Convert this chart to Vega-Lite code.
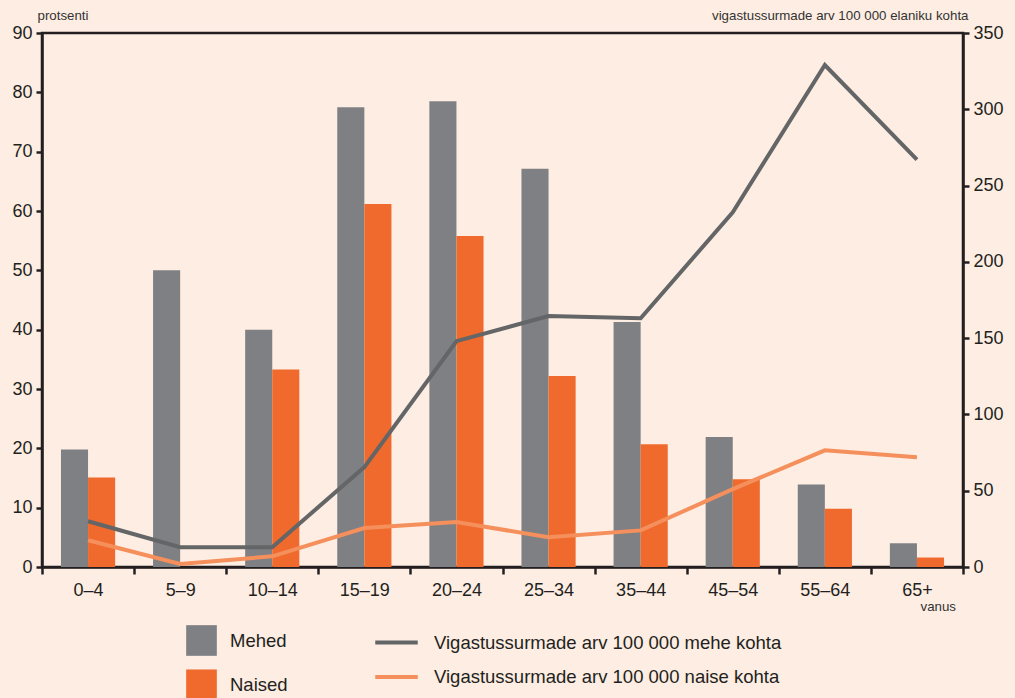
{
  "$schema": "https://vega.github.io/schema/vega-lite/v6.json",
  "width": 921,
  "height": 534,
  "autosize": {"type": "none"},
  "padding": {"left": 42, "top": 33, "right": 52, "bottom": 131},
  "background": "#fdede2",
  "config": {
    "font": "Liberation Sans",
    "view": {"stroke": "#231f20", "strokeWidth": 2.5},
    "axis": {
      "domainColor": "#231f20", "domainWidth": 2.5,
      "tickColor": "#231f20", "tickWidth": 2.5, "tickSize": 7,
      "labelColor": "#231f20", "labelFontSize": 18, "labelFont": "Liberation Sans",
      "grid": false,
      "titleFont": "Liberation Sans", "titleFontSize": 13.3, "titleFontWeight": "normal", "titleColor": "#333333"
    }
  },
  "datasets": {
    "bars": [
      {"age": "0–4", "sex": "Mehed", "value": 19.8},
      {"age": "0–4", "sex": "Naised", "value": 15.1},
      {"age": "5–9", "sex": "Mehed", "value": 50.0},
      {"age": "5–9", "sex": "Naised", "value": 0},
      {"age": "10–14", "sex": "Mehed", "value": 40.0},
      {"age": "10–14", "sex": "Naised", "value": 33.3},
      {"age": "15–19", "sex": "Mehed", "value": 77.5},
      {"age": "15–19", "sex": "Naised", "value": 61.2},
      {"age": "20–24", "sex": "Mehed", "value": 78.5},
      {"age": "20–24", "sex": "Naised", "value": 55.8},
      {"age": "25–34", "sex": "Mehed", "value": 67.1},
      {"age": "25–34", "sex": "Naised", "value": 32.2},
      {"age": "35–44", "sex": "Mehed", "value": 41.3},
      {"age": "35–44", "sex": "Naised", "value": 20.7},
      {"age": "45–54", "sex": "Mehed", "value": 21.9},
      {"age": "45–54", "sex": "Naised", "value": 14.8},
      {"age": "55–64", "sex": "Mehed", "value": 13.9},
      {"age": "55–64", "sex": "Naised", "value": 9.8},
      {"age": "65+", "sex": "Mehed", "value": 4.0},
      {"age": "65+", "sex": "Naised", "value": 1.6}
    ],
    "lines": [
      {"age": "0–4", "series": "Vigastussurmade arv 100 000 mehe kohta", "rate": 30},
      {"age": "5–9", "series": "Vigastussurmade arv 100 000 mehe kohta", "rate": 13},
      {"age": "10–14", "series": "Vigastussurmade arv 100 000 mehe kohta", "rate": 13},
      {"age": "15–19", "series": "Vigastussurmade arv 100 000 mehe kohta", "rate": 65.5},
      {"age": "20–24", "series": "Vigastussurmade arv 100 000 mehe kohta", "rate": 148},
      {"age": "25–34", "series": "Vigastussurmade arv 100 000 mehe kohta", "rate": 164.5},
      {"age": "35–44", "series": "Vigastussurmade arv 100 000 mehe kohta", "rate": 163},
      {"age": "45–54", "series": "Vigastussurmade arv 100 000 mehe kohta", "rate": 232.5},
      {"age": "55–64", "series": "Vigastussurmade arv 100 000 mehe kohta", "rate": 329},
      {"age": "65+", "series": "Vigastussurmade arv 100 000 mehe kohta", "rate": 267},
      {"age": "0–4", "series": "Vigastussurmade arv 100 000 naise kohta", "rate": 17.5},
      {"age": "5–9", "series": "Vigastussurmade arv 100 000 naise kohta", "rate": 2},
      {"age": "10–14", "series": "Vigastussurmade arv 100 000 naise kohta", "rate": 7},
      {"age": "15–19", "series": "Vigastussurmade arv 100 000 naise kohta", "rate": 25.5},
      {"age": "20–24", "series": "Vigastussurmade arv 100 000 naise kohta", "rate": 29.5},
      {"age": "25–34", "series": "Vigastussurmade arv 100 000 naise kohta", "rate": 19.5},
      {"age": "35–44", "series": "Vigastussurmade arv 100 000 naise kohta", "rate": 24},
      {"age": "45–54", "series": "Vigastussurmade arv 100 000 naise kohta", "rate": 51},
      {"age": "55–64", "series": "Vigastussurmade arv 100 000 naise kohta", "rate": 76.5},
      {"age": "65+", "series": "Vigastussurmade arv 100 000 naise kohta", "rate": 72}
    ]
  },
  "layer": [
    {
      "data": {"name": "bars"},
      "mark": {"type": "bar"},
      "encoding": {
        "x": {
          "field": "age", "type": "nominal",
          "sort": ["0–4", "5–9", "10–14", "15–19", "20–24", "25–34", "35–44", "45–54", "55–64", "65+"],
          "scale": {"paddingInner": 0, "paddingOuter": 0},
          "axis": {
            "title": "vanus", "labelAngle": 0, "tickBand": "extent", "labelPadding": 7,
            "titleAngle": 0, "titleAlign": "left", "titleBaseline": "middle",
            "titleX": 878, "titleY": 39
          }
        },
        "xOffset": {
          "field": "sex", "type": "nominal", "sort": ["Mehed", "Naised"],
          "scale": {"paddingInner": 0, "paddingOuter": 0.7}
        },
        "y": {
          "field": "value", "type": "quantitative",
          "scale": {"domain": [0, 90], "nice": false},
          "axis": {
            "title": "protsenti", "values": [0, 10, 20, 30, 40, 50, 60, 70, 80, 90],
            "labelPadding": 4, "tickSize": 6,
            "titleAngle": 0, "titleAlign": "left", "titleBaseline": "middle",
            "titleX": -5, "titleY": -18
          }
        },
        "fill": {
          "field": "sex", "type": "nominal",
          "scale": {"domain": ["Mehed", "Naised"], "range": ["#7f8084", "#ef6a2c"]},
          "legend": {
            "title": null, "orient": "none", "legendX": 144, "legendY": 592,
            "direction": "vertical", "symbolType": "square", "symbolSize": 940,
            "symbolStrokeWidth": 0, "labelFontSize": 18.5, "labelColor": "#231f20",
            "labelFont": "Liberation Sans", "labelOffset": 13, "rowPadding": 13.3, "labelLimit": 0
          }
        }
      }
    },
    {
      "data": {"name": "lines"},
      "mark": {"type": "line", "strokeWidth": 4},
      "encoding": {
        "x": {
          "field": "age", "type": "nominal",
          "sort": ["0–4", "5–9", "10–14", "15–19", "20–24", "25–34", "35–44", "45–54", "55–64", "65+"]
        },
        "y": {
          "field": "rate", "type": "quantitative",
          "scale": {"domain": [0, 350], "nice": false},
          "axis": {
            "orient": "right", "title": "vigastussurmade arv 100 000 elaniku kohta",
            "values": [0, 50, 100, 150, 200, 250, 300, 350],
            "labelPadding": 4, "tickSize": 6,
            "titleAngle": 0, "titleAlign": "right", "titleBaseline": "middle",
            "titleX": 5, "titleY": -18
          }
        },
        "stroke": {
          "field": "series", "type": "nominal",
          "scale": {
            "domain": ["Vigastussurmade arv 100 000 mehe kohta", "Vigastussurmade arv 100 000 naise kohta"],
            "range": ["#646567", "#f58f5b"]
          },
          "legend": {
            "title": null, "orient": "none", "legendX": 331, "legendY": 586,
            "direction": "vertical", "symbolType": "stroke", "symbolSize": 1806,
            "symbolStrokeWidth": 4, "labelFontSize": 18.5, "labelColor": "#231f20",
            "labelFont": "Liberation Sans", "labelOffset": 14, "rowPadding": 1.5, "labelLimit": 0
          }
        }
      }
    }
  ],
  "resolve": {"scale": {"y": "independent", "stroke": "independent", "fill": "independent"}}
}
